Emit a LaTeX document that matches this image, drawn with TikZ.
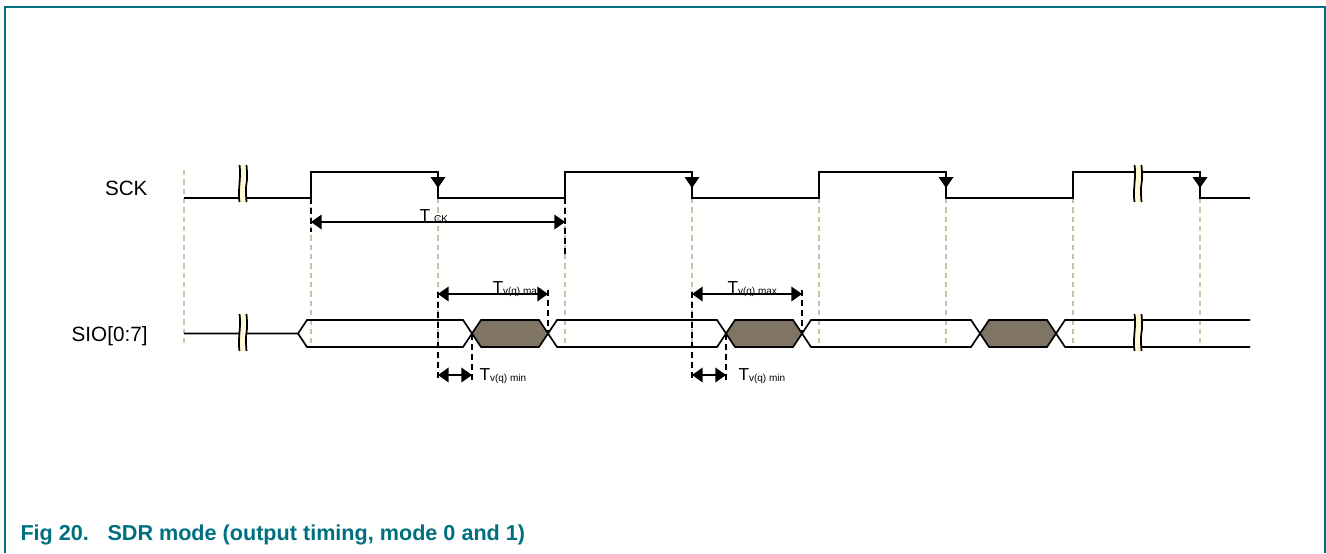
\documentclass[tikz,border=0pt]{standalone}
\usepackage{fontspec}
\setmainfont{Liberation Sans}
\usetikzlibrary{arrows.meta}

\definecolor{frameteal}{RGB}{0,112,128}
\definecolor{gridtan}{RGB}{210,190,162}
\definecolor{datafill}{RGB}{128,116,101}
\definecolor{breakfill}{RGB}{255,250,214}

\tikzset{every picture/.style={line width=0.75pt}}
\tikzset{
  sig/.style={draw=black, line width=1.25pt, line join=miter},
  gridline/.style={draw=gridtan, line width=1pt, dash pattern=on 4pt off 3pt},
  timedash/.style={draw=black, line width=1.4pt, dash pattern=on 4.5pt off 3pt},
  dimarrow/.style={line width=1.1pt, {Triangle[length=8pt,width=11pt]}-{Triangle[length=8pt,width=11pt]}},
  siglabel/.style={font=\fontsize{15.5}{16}\selectfont, inner sep=0pt, anchor=base east},
  tlabel/.style={font=\fontsize{13}{14}\selectfont, inner sep=0pt, anchor=base west},
  caplabel/.style={font=\fontsize{16.2}{17}\selectfont\bfseries, text=frameteal, inner sep=0pt, anchor=base west},
  sigbreak/.pic={
    \fill[breakfill] (-3.5,-18.5) .. controls (-5.5,-6) and (-1.5,6) .. (-3.5,18.5) -- (3.5,18.5) .. controls (1.5,6) and (5.5,-6) .. (3.5,-18.5) -- cycle;
    \draw[line width=1.3pt] (-3.5,-18.5) .. controls (-5.5,-6) and (-1.5,6) .. (-3.5,18.5);
    \draw[line width=1.3pt] (3.5,-18.5) .. controls (1.5,6) and (5.5,-6) .. (3.5,18.5);
  }
}
\newcommand{\subt}[1]{\raisebox{-1pt}{\fontsize{7.5}{8}\selectfont #1}}

\begin{document}
\begin{tikzpicture}[x=0.75pt,y=0.75pt,yscale=-1,xscale=1]
	\useasboundingbox (0,0) rectangle (1326,553);

	%Frame
	\draw [frameteal, line width=1.5pt] (4.5,553) -- (4.5,7) -- (1324.5,7) -- (1324.5,553);

	%Grid lines
	\draw [gridline] (184,170) -- (184,347);
	\foreach \x in {311,438,565,692,819,946,1073,1200}
		\draw [gridline] (\x,198) -- (\x,347);

	%Shaded data
	\foreach \cx in {472,726,980}
		\fill [datafill] (\cx,333.5) -- (\cx+9,320) -- (\cx+67,320) -- (\cx+76,333.5) -- (\cx+67,347) -- (\cx+9,347) -- cycle;

	%SCK
	\draw [sig] (184,198) -- (311,198) -- (311,172) -- (438,172) -- (438,198) -- (565,198) -- (565,172) -- (692,172) -- (692,198) -- (819,198) -- (819,172) -- (946,172) -- (946,198) -- (1073,198) -- (1073,172) -- (1200,172) -- (1200,198) -- (1250,198);
	%Falling edge marks
	\foreach \x in {438,692,946,1200}
		\fill (\x-7.5,177) -- (\x+7.5,177) -- (\x,188) -- cycle;

	%SIO[0:7]
	\draw [sig] (184,333.5) -- (298,333.5) -- (307,320) -- (463,320) -- (481,347) -- (539,347) -- (557,320) -- (717,320) -- (735,347) -- (793,347) -- (811,320) -- (971,320) -- (989,347) -- (1047,347) -- (1065,320) -- (1250,320);
	\draw [sig] (298,333.5) -- (307,347) -- (463,347) -- (481,320) -- (539,320) -- (557,347) -- (717,347) -- (735,320) -- (793,320) -- (811,347) -- (971,347) -- (989,320) -- (1047,320) -- (1065,347) -- (1250,347);

	%Breaks
	\pic at (243,183.5) {sigbreak};
	\pic at (1138,183.5) {sigbreak};
	\pic at (243,332.5) {sigbreak};
	\pic at (1138,332.5) {sigbreak};

	%Timing marks
	\draw [timedash] (311,198) -- (311,232);
	\draw [timedash] (565,198) -- (565,257);
	\foreach \x in {438,692} {
		\draw [timedash] (\x,292) -- (\x,382);
		\draw [timedash] (\x+34,334) -- (\x+34,382);
		\draw [timedash] (\x+110,290) -- (\x+110,333);
	}

	%Dimension points
	\coordinate (tckA) at (311,222);
	\coordinate (tckB) at (565,222);
	\coordinate (maxA1) at (438,294);
	\coordinate (maxB1) at (548,294);
	\coordinate (maxA2) at (692,294);
	\coordinate (maxB2) at (802,294);
	\coordinate (minA1) at (438,375);
	\coordinate (minB1) at (472,375);
	\coordinate (minA2) at (692,375);
	\coordinate (minB2) at (726,375);

	%Dimension arrows
	\draw [dimarrow] (tckA) -- (tckB);
	\draw [dimarrow] (maxA1) -- (maxB1);
	\draw [dimarrow] (maxA2) -- (maxB2);
	\draw [dimarrow] (minA1) -- (minB1);
	\draw [dimarrow] (minA2) -- (minB2);

	% Text Node
	\node [siglabel] (sckLabel) at (148,195) {SCK};
	% Text Node
	\node [siglabel] (sioLabel) at (148,341) {SIO[0:7]};
	% Text Node
	\node [tlabel] (tck) at (419,221) {T\hspace{3pt}\subt{CK}};
	% Text Node
	\node [tlabel] (tvmax1) at (492,293) {T\subt{v(q) max}};
	% Text Node
	\node [tlabel] (tvmax2) at (727,293) {T\subt{v(q) max}};
	% Text Node
	\node [tlabel] (tvmin1) at (479,380) {T\subt{v(q) min}};
	% Text Node
	\node [tlabel] (tvmin2) at (738,380) {T\subt{v(q) min}};
	% Text Node
	\node [caplabel] (capNum) at (20,540) {Fig 20.};
	% Text Node
	\node [caplabel] (capText) at (107,540) {SDR mode (output timing, mode 0 and 1)};

\end{tikzpicture}
\end{document}
